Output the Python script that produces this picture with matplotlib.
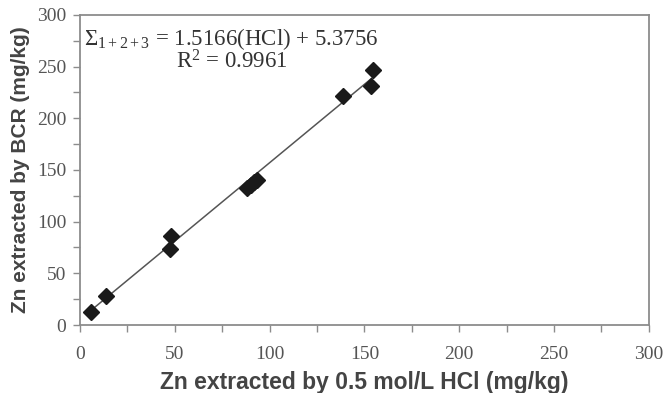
import numpy as np
import matplotlib
matplotlib.use('Agg')
import matplotlib.pyplot as plt

# Zn extracted (mg/kg)
hcl = [5.8, 13.5, 47.5, 47.8, 88.0, 90.0, 92.0, 93.5, 138.5, 153.5, 154.5]
bcr = [12.5, 28.0, 73.5, 86.0, 133.0, 135.5, 138.0, 140.0, 222.0, 231.0, 247.0]
slope, intercept = 1.5166, 5.3756
line_x = [4.0, 156.0]

plt.rcParams['mathtext.fontset'] = 'custom'
plt.rcParams['mathtext.rm'] = 'Liberation Serif'
plt.rcParams['mathtext.it'] = 'Liberation Serif:italic'

fig = plt.figure(figsize=(6.63, 3.93), dpi=100)
ax = fig.add_axes([0.1207, 0.173, 0.858, 0.789])

lx = np.array(line_x)
ax.plot(lx, slope * lx + intercept, color='#555555', lw=1.1, zorder=2)
ax.plot(hcl, bcr, ls='none', marker='D', ms=8, color='#1a1a1a', zorder=3)

ax.set_xlim(0, 300)
ax.set_ylim(0, 300)
ax.set_xticks(np.arange(0, 301, 50))
ax.set_yticks(np.arange(0, 301, 50))
ax.set_xticks(np.arange(0, 301, 25), minor=True)
ax.set_yticks(np.arange(0, 301, 25), minor=True)
for s in ax.spines.values():
    s.set_color('#8c8c8c')
    s.set_linewidth(1.3)
ax.tick_params(which='both', direction='out', color='#8c8c8c', width=1.0)
ax.tick_params(which='major', length=5, labelsize=14, labelcolor='#555555', pad=5)
ax.tick_params(axis='x', which='major', pad=10)
ax.tick_params(which='minor', length=5)
for lab in ax.get_xticklabels() + ax.get_yticklabels():
    lab.set_fontfamily('Liberation Serif')

ax.set_xlabel('Zn extracted by 0.5 mol/L HCl (mg/kg)', fontsize=16.5, fontweight='bold',
              family='Liberation Sans', color='#444444', labelpad=6)
ax.set_ylabel('Zn extracted by BCR (mg/kg)', fontsize=15, fontweight='bold',
              family='Liberation Sans', color='#444444', labelpad=5)

ax.text(2, 277, r'$\Sigma_{1+2+3}$' + ' = 1.5166(HCl) + 5.3756', fontsize=16.5,
        family='Liberation Serif', color='#333333', va='center', ha='left')
ax.text(80, 255, r'R$^2$ = 0.9961', fontsize=16.5, family='Liberation Serif',
        color='#333333', va='center', ha='center')

fig.savefig('out.png', dpi=100)
plt.close(fig)
